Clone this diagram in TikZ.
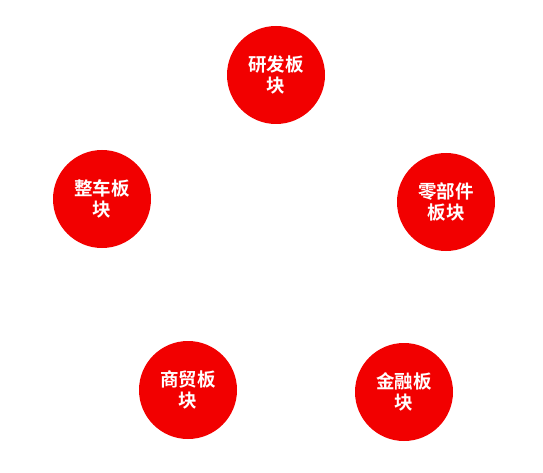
\documentclass[tikz,border=0pt]{standalone}
\usepackage{fontspec}
\newfontfamily\cjk{Noto Sans CJK SC Bold}
\definecolor{blobred}{RGB}{242,0,0}
\tikzset{
  blob/.style={circle, fill=blobred, draw=none, minimum size=98pt, inner sep=0pt,
    text=white, align=center, font=\cjk\fontsize{18.5pt}{21pt}\selectfont}
}
\begin{document}
\begin{tikzpicture}[x=1pt,y=1pt]
\useasboundingbox (0,0) rectangle (543,472);
\node[blob] (rd) at (276,397) {研发板\\块};
\node[blob] (parts) at (446,270) {零部件\\板块};
\node[blob] (car) at (102,273) {整车板\\块};
\node[blob] (trade) at (188,82) {商贸板\\块};
\node[blob] (fin) at (404,80) {金融板\\块};
\end{tikzpicture}
\end{document}
